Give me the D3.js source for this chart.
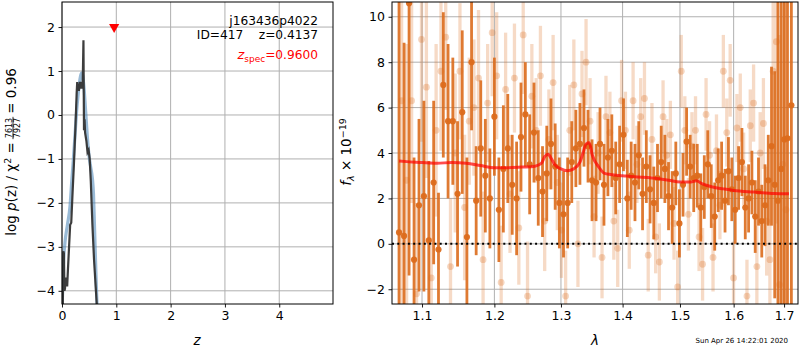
<!DOCTYPE html>
<html><head><meta charset="utf-8">
<script src="https://cdn.jsdelivr.net/npm/d3@7"></script>
<style>body{margin:0;background:#fff} text{font-family:"DejaVu Sans",sans-serif}</style>
</head><body><svg id="c" width="800" height="350"></svg>
<script>
// ---------- data ----------
const pzZ   = [0.015,0.02,0.025,0.035,0.045,0.055,0.065,0.08,0.095,0.11,0.13,0.15,0.17,0.19,0.22,0.25,0.27,0.28,0.29,0.30,0.31,0.33,0.345,0.36,0.38,0.395,0.405,0.415,0.425,0.45,0.47,0.49,0.51,0.53,0.56,0.59,0.62,0.65];
const pzLog = [-4.4,-3.6,-3.1,-3.15,-4.0,-3.95,-3.7,-3.75,-3.9,-3.5,-3.0,-2.5,-2.45,-1.9,-1.1,-0.2,0.5,0.75,0.55,0.7,0.55,0.75,0.6,0.75,0.6,1.7,-0.35,-0.1,-0.4,-0.6,-0.85,-0.8,-1.0,-1.5,-2.5,-3.3,-3.9,-4.5];
const pzSmoothZ   = [0.0,0.03,0.055,0.1,0.147,0.18,0.21,0.24,0.27,0.3,0.32,0.34,0.36,0.38,0.41,0.44,0.47,0.5,0.53,0.56,0.58,0.60,0.62,0.645,0.66];
const pzSmoothLog = [-4.5,-3.3,-2.9,-2.5,-2.08,-1.5,-1.0,-0.45,0.1,0.5,0.72,0.88,0.95,0.9,0.55,0.0,-0.55,-0.95,-1.2,-1.45,-1.8,-2.6,-3.4,-4.3,-4.6];
const zSpec = [0.96];
const zSpecMark = [2.0];

const darkLam = [1.0700,1.0765,1.0830,1.0895,1.0960,1.1025,1.1090,1.1155,1.1220,1.1285,1.1350,1.1415,1.1480,1.1545,1.1610,1.1675,1.1740,1.1805,1.1870,1.1935,1.2000,1.2065,1.2130,1.2195,1.2260,1.2325,1.2390,1.2455,1.2520,1.2585,1.2650,1.2715,1.2780,1.2845,1.2910,1.2975,1.3040,1.3105,1.3170,1.3235,1.3300,1.3365,1.3430,1.3495,1.3560,1.3625,1.3690,1.3755,1.3820,1.3885,1.3950,1.4015,1.4080,1.4145,1.4210,1.4275,1.4340,1.4405,1.4470,1.4535,1.4600,1.4665,1.4730,1.4795,1.4860,1.4925,1.4990,1.5055,1.5120,1.5185,1.5250,1.5315,1.5380,1.5445,1.5510,1.5575,1.5640,1.5705,1.5770,1.5835,1.5900,1.5965,1.6030,1.6095,1.6160,1.6225,1.6290,1.6355,1.6420,1.6485,1.6550,1.6615,1.6680,1.6745,1.6810,1.6875,1.6940,1.7005,1.7070,1.7150];
const darkFlux = [0.5,0.35,10.6,-0.7,1.7,2.1,0.15,2.7,-0.25,7.0,5.4,5.4,2.2,5.8,0.3,8.0,1.9,4.2,3.0,2.0,5.6,1.5,3.3,4.2,2.6,2.0,4.7,5.7,3.5,4.9,2.9,2.3,3.1,4.4,3.4,1.8,1.3,1.8,3.6,4.2,4.4,5.1,4.3,2.8,2.7,4.4,2.6,3.8,4.1,2.9,3.5,4.8,2.0,3.0,2.7,3.9,2.2,3.4,2.4,1.8,2.9,3.6,3.3,2.1,1.6,3.1,0.9,2.6,4.5,3.4,2.9,3.0,1.6,2.5,3.5,2.1,1.2,2.8,3.0,1.9,3.2,2.4,1.5,2.9,3.6,1.6,2.0,2.7,1.2,2.3,1.0,1.7,2.8,4.3,2.6,1.9,3.3,4.6,4.65,6.1];
const darkErr = [14,8.5,12,4.5,3.8,4.2,3.5,3.6,2.5,3.2,3.4,2.8,3.2,3.6,3.5,3.0,2.4,3.0,2.5,2.2,2.6,2.3,2.8,2.4,2.2,2.5,2.4,2.3,2.2,2.2,2.1,2.0,2.1,2.0,1.9,2.0,1.9,2.0,1.8,1.7,1.8,1.7,1.6,1.8,1.7,1.6,1.8,1.7,1.6,1.6,1.7,1.6,1.7,1.5,1.7,1.5,1.6,1.6,1.5,1.6,1.5,1.6,1.5,1.5,1.6,1.4,1.5,1.4,1.5,1.4,1.5,1.4,1.5,1.4,1.5,1.4,1.5,1.4,1.5,1.4,1.5,1.4,1.5,1.4,1.5,1.4,1.5,1.4,1.6,1.5,1.6,1.8,2.0,3.5,5,9,12,14,15,18];

const lightLam = [1.0733,1.0798,1.0863,1.0928,1.0993,1.1058,1.1123,1.1188,1.1253,1.1318,1.1383,1.1448,1.1513,1.1578,1.1643,1.1708,1.1773,1.1838,1.1903,1.1968,1.2033,1.2098,1.2163,1.2228,1.2293,1.2358,1.2423,1.2488,1.2553,1.2618,1.2683,1.2748,1.2813,1.2878,1.2943,1.3008,1.3073,1.3138,1.3203,1.3268,1.3333,1.3398,1.3463,1.3528,1.3593,1.3658,1.3723,1.3788,1.3853,1.3918,1.3983,1.4048,1.4113,1.4178,1.4243,1.4308,1.4373,1.4438,1.4503,1.4568,1.4633,1.4698,1.4763,1.4828,1.4893,1.4958,1.5023,1.5088,1.5153,1.5218,1.5283,1.5348,1.5413,1.5478,1.5543,1.5608,1.5673,1.5738,1.5803,1.5868,1.5933,1.5998,1.6063,1.6128,1.6193,1.6258,1.6323,1.6388,1.6453,1.6518,1.6583,1.6648,1.6713,1.6778,1.6843,1.6908,1.6973,1.7038];
const lightFlux = [6.3,2.8,6.3,-2.2,9.0,6.9,-1.5,5.0,7.6,9.1,-1.0,4.0,7.6,1.6,5.4,6.0,7.3,-0.7,6.2,9.3,7.4,-1.7,6.8,2.2,7.3,0.7,9.2,-2.3,6.5,5.0,7.4,1.0,4.6,7.1,2.7,0.6,-2.3,5.0,7.0,0.0,6.6,8.0,5.4,1.2,4.0,-0.6,5.6,4.9,1.0,-0.2,6.3,5.0,0.6,6.3,3.5,5.6,6.4,-0.5,4.6,0.3,-0.8,5.6,3.9,4.8,0.9,-1.9,7.6,5.0,1.3,4.3,5.0,0.3,-0.9,5.7,3.9,-0.6,4.1,1.7,7.6,4.9,7.2,-1.5,5.1,6.0,3.3,-2.3,5.2,6.2,-1.0,4.0,5.3,1.0,-0.7,7.6,8.9,-1.8,3.5,1.5];
const lightErr = [9,6,4.5,4,4.5,4,3.5,3.8,3.5,3.2,3.0,3.5,3.0,3.2,2.8,3.0,3.0,3.0,2.6,2.8,2.8,2.5,2.5,2.6,2.4,2.5,2.6,2.4,2.3,2.3,2.2,2.2,2.2,2.1,2.1,2.1,2.0,2.0,2.0,1.9,1.9,1.9,1.9,1.8,1.8,1.8,1.8,1.8,1.7,1.7,1.8,1.7,1.7,1.7,1.7,1.7,1.6,1.6,1.6,1.6,1.7,1.6,1.6,1.5,1.6,1.6,1.6,1.5,1.6,1.5,1.5,1.5,1.6,1.6,1.5,1.5,1.6,1.5,1.6,1.5,1.6,1.6,1.5,1.5,1.6,1.6,1.6,1.7,1.8,1.8,2.0,2.4,3.5,5,8,11,14,16];

const modelLam  = [1.07,1.08,1.10,1.12,1.14,1.16,1.18,1.20,1.22,1.24,1.26,1.27,1.275,1.28,1.285,1.29,1.30,1.31,1.32,1.33,1.335,1.34,1.345,1.35,1.36,1.37,1.38,1.40,1.42,1.45,1.48,1.50,1.52,1.53,1.54,1.56,1.58,1.60,1.64,1.68,1.71];
const modelFlux = [3.65,3.62,3.58,3.55,3.58,3.55,3.45,3.35,3.35,3.38,3.42,3.55,3.85,3.95,3.75,3.5,3.3,3.22,3.3,3.6,4.0,4.4,4.45,3.9,3.4,3.1,3.05,3.0,2.95,2.9,2.8,2.72,2.72,2.78,2.65,2.5,2.42,2.35,2.28,2.22,2.2];

const zTicks = [0,1,2,3,4];
const pzTicks = [-4,-3,-2,-1,0,1,2];
const lamTicks = [1.1,1.2,1.3,1.4,1.5,1.6,1.7];
const fluxTicks = [-2,0,2,4,6,8,10];

// ---------- layout ----------
const svg = d3.select("#c");
const L = {x0:62, x1:333, y0:2, y1:304};
const R = {x0:392, x1:798, y0:2, y1:304};
const tickFont = "12.5px";
const grid = "#b0b0b0";

const xz = d3.scaleLinear().domain([0,4.99]).range([L.x0,L.x1]);
const yp = d3.scaleLinear().domain([-4.3,2.57]).range([L.y1,L.y0]);
const xl = d3.scaleLog().domain([1.061,1.7287]).range([R.x0,R.x1]);
const yf = d3.scaleLinear().domain([-2.65,10.65]).range([R.y1,R.y0]);

const defs = svg.append("defs");
defs.append("clipPath").attr("id","clipL").append("rect").attr("x",L.x0).attr("y",L.y0).attr("width",L.x1-L.x0).attr("height",L.y1-L.y0);
defs.append("clipPath").attr("id","clipR").append("rect").attr("x",R.x0).attr("y",R.y0).attr("width",R.x1-R.x0).attr("height",R.y1-R.y0);

function drawGrid(box, xs, ys, xt, yt){
  const g = svg.append("g");
  g.selectAll(".gx").data(xt).join("line").attr("x1",d=>xs(d)).attr("x2",d=>xs(d)).attr("y1",box.y0).attr("y2",box.y1).attr("stroke",grid).attr("stroke-width",1);
  g.selectAll(".gy").data(yt).join("line").attr("y1",d=>ys(d)).attr("y2",d=>ys(d)).attr("x1",box.x0).attr("x2",box.x1).attr("stroke",grid).attr("stroke-width",1);
}
function drawAxes(box, xs, ys, xt, yt, xf, yfmt){
  const ax = svg.append("g").attr("transform",`translate(0,${box.y1})`)
    .call(d3.axisBottom(xs).tickValues(xt).tickSize(3.5).tickPadding(3.5).tickFormat(xf));
  const ay = svg.append("g").attr("transform",`translate(${box.x0},0)`)
    .call(d3.axisLeft(ys).tickValues(yt).tickSize(3.5).tickPadding(3.5).tickFormat(yfmt));
  [ax,ay].forEach(a=>{a.select(".domain").remove(); a.selectAll("text").attr("font-size",tickFont).attr("font-family","DejaVu Sans").attr("fill","#000"); a.selectAll("line").attr("stroke","#000").attr("stroke-width",0.9);});
  svg.append("rect").attr("x",box.x0).attr("y",box.y0).attr("width",box.x1-box.x0).attr("height",box.y1-box.y0).attr("fill","none").attr("stroke","#000").attr("stroke-width",1);
}

// ---------- left panel ----------
drawGrid(L, xz, yp, zTicks, pzTicks);
const gl = svg.append("g").attr("clip-path","url(#clipL)");
gl.append("path").datum(pzSmoothZ.map((z,i)=>[z,pzSmoothLog[i]]))
  .attr("d", d3.line().x(d=>xz(d[0])).y(d=>yp(d[1])).curve(d3.curveMonotoneX))
  .attr("fill","none").attr("stroke","steelblue").attr("stroke-opacity",0.55).attr("stroke-width",3.2);
gl.append("path").datum(pzZ.map((z,i)=>[z,pzLog[i]]))
  .attr("d", d3.line().x(d=>xz(d[0])).y(d=>yp(d[1])))
  .attr("fill","none").attr("stroke","#333").attr("stroke-opacity",0.95).attr("stroke-width",2.2);
gl.selectAll(".tri").data(zSpec).join("path")
  .attr("d", d3.symbol().type(d3.symbolTriangle).size(45))
  .attr("transform",(d,i)=>`translate(${xz(d)},${yp(zSpecMark[i])}) rotate(180)`)
  .attr("fill","red");
drawAxes(L, xz, yp, zTicks, pzTicks, d3.format("d"), d3.format("d"));

// annotations
const ann = svg.append("g").attr("font-size","12.2px").attr("text-anchor","end");
ann.append("text").attr("x",318).attr("y",25).text("j163436p4022");
ann.append("text").attr("x",318).attr("y",39).text("ID=417\u00a0\u00a0\u00a0\u00a0z=0.4137");
const zs = ann.append("text").attr("x",318).attr("y",59).attr("fill","red");
zs.append("tspan").attr("font-style","italic").attr("font-size","13px").text("z");
zs.append("tspan").attr("font-size","9px").attr("dy",2.5).text("spec");
zs.append("tspan").attr("dy",-2.5).text("=0.9600");

// left y label
const lab = svg.append("g").attr("transform","translate(16,152) rotate(-90)").attr("font-size","13.5px");
const t1 = lab.append("text");
t1.append("tspan").text("log\u00a0");
t1.append("tspan").attr("font-style","italic").text("p");
t1.append("tspan").text("(z)\u00a0/\u00a0χ");
t1.append("tspan").attr("font-size","9.5px").attr("dy",-5).text("2");
t1.append("tspan").attr("dy",5).text("\u00a0=");
const num = lab.append("text").attr("font-size","8px").attr("text-anchor","middle").text("7613");
const den = lab.append("text").attr("font-size","8px").attr("text-anchor","middle").text("7927");
const fl = lab.append("line").attr("stroke","#000").attr("stroke-width",0.8);
const t2 = lab.append("text").text("=\u00a00.96");
const w1 = t1.node().getComputedTextLength();
const wf = Math.max(num.node().getComputedTextLength(), den.node().getComputedTextLength()) + 2;
const w2 = t2.node().getComputedTextLength();
const gap = 3;
const total = w1 + gap + wf + gap + w2;
let sx = -total/2;
t1.attr("x", sx);
const fc = sx + w1 + gap + wf/2;
num.attr("x", fc).attr("y", -4.3);
den.attr("x", fc).attr("y", 4.2);
fl.attr("x1", fc-wf/2).attr("x2", fc+wf/2).attr("y1",-3).attr("y2",-3);
t2.attr("x", sx + w1 + gap + wf + gap);

svg.append("text").attr("x",197).attr("y",345).attr("text-anchor","middle").attr("font-size","13.5px").attr("font-style","italic").text("z");

// ---------- right panel ----------
drawGrid(R, xl, yf, lamTicks, fluxTicks);
const gr = svg.append("g").attr("clip-path","url(#clipR)");
const col = "rgb(220,108,28)";
const light = lightLam.map((l,i)=>({l, f:lightFlux[i], e:lightErr[i]}));
const dark = darkLam.map((l,i)=>({l, f:darkFlux[i], e:darkErr[i]}));
gr.selectAll(".lb").data(light).join("line")
  .attr("x1",d=>xl(d.l)).attr("x2",d=>xl(d.l)).attr("y1",d=>yf(d.f-d.e)).attr("y2",d=>yf(d.f+d.e))
  .attr("stroke",col).attr("stroke-opacity",0.25).attr("stroke-width",3.3);
gr.selectAll(".lm").data(light).join("circle")
  .attr("cx",d=>xl(d.l)).attr("cy",d=>yf(d.f)).attr("r",3.4).attr("fill",col).attr("fill-opacity",0.28);
gr.selectAll(".db").data(dark).join("line")
  .attr("x1",d=>xl(d.l)).attr("x2",d=>xl(d.l)).attr("y1",d=>yf(d.f-d.e)).attr("y2",d=>yf(d.f+d.e))
  .attr("stroke",col).attr("stroke-opacity",0.9).attr("stroke-width",2.8);
gr.selectAll(".dm").data(dark).join("circle")
  .attr("cx",d=>xl(d.l)).attr("cy",d=>yf(d.f)).attr("r",3.1).attr("fill",col).attr("fill-opacity",0.95);
gr.append("path").datum(modelLam.map((l,i)=>[l,modelFlux[i]]))
  .attr("d", d3.line().x(d=>xl(d[0])).y(d=>yf(d[1])).curve(d3.curveMonotoneX))
  .attr("fill","none").attr("stroke","red").attr("stroke-opacity",0.7).attr("stroke-width",3);
gr.append("line").attr("x1",R.x0).attr("x2",R.x1).attr("y1",yf(0)).attr("y2",yf(0))
  .attr("stroke","#000").attr("stroke-width",2).attr("stroke-dasharray","2,3.3");
drawAxes(R, xl, yf, lamTicks, fluxTicks, d3.format(".1f"), d3.format("d"));

// right y label
const rl = svg.append("text").attr("transform","translate(351,152) rotate(-90)").attr("text-anchor","middle").attr("font-size","13.5px");
rl.append("tspan").attr("font-style","italic").text("f");
rl.append("tspan").attr("font-style","italic").attr("font-size","9.5px").attr("dy",3).text("λ");
rl.append("tspan").attr("dy",-3).text("\u00a0×\u00a010");
rl.append("tspan").attr("font-size","9.5px").attr("dy",-5.5).text("−19");

svg.append("text").attr("x",595).attr("y",345).attr("text-anchor","middle").attr("font-size","13.5px").attr("font-style","italic").text("λ");
svg.append("text").attr("x",788).attr("y",343).attr("text-anchor","end").attr("font-size","7px").text("Sun Apr 26 14:22:01 2020");
</script></body></html>
